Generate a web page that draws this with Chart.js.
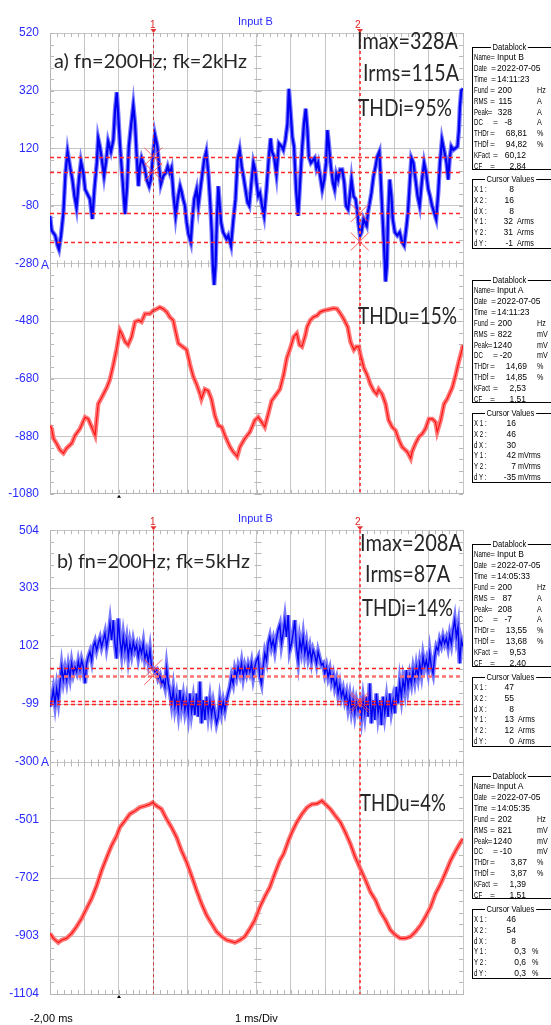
<!DOCTYPE html>
<html>
<head>
<meta charset="utf-8">
<script src="https://cdn.jsdelivr.net/npm/chart.js@4.4.0/dist/chart.umd.min.js"></script>
<style>
body{margin:0;background:#fff;width:551px;height:1025px;overflow:hidden;position:relative;font-family:"Liberation Sans",Arial,sans-serif}
canvas{position:absolute;left:0}
.note{position:absolute;color:#262626;font-family:Lato,"Open Sans",sans-serif;white-space:nowrap;transform-origin:0 50%}
.lbl{position:absolute;white-space:nowrap;font-size:11px;line-height:12px}
.blk{position:absolute;left:472px;width:110px;border:1px solid #000;box-sizing:border-box}
.blk span{position:absolute;font-size:8.5px;line-height:10px;white-space:nowrap;color:#000}
.blk .nar{font-size:9px;transform:scaleX(0.68);transform-origin:0 50%}
.blk .unit{font-size:9px;transform:scaleX(0.8);transform-origin:0 50%}
.blk .ttl{background:#fff;padding:0 2px;top:-6px;font-size:9.5px;transform:scaleX(0.8);transform-origin:0 50%}
</style>
</head>
<body>
<canvas id="chartA" width="551" height="512" style="top:0"></canvas>
<canvas id="chartB" width="551" height="513" style="top:512px"></canvas>
<script>
// time axis, ms
const xTicks = [-2,-1,0,1,2,3,4,5,6,7,8,9,10];
const yTicksA = [520,320,120,-80,-280,-480,-680,-880,-1080];
const yTicksB = [504,303,102,-99,-300,-501,-702,-903,-1104];

// a) current (Input B)
const tCurA = [-2.00,-1.95,-1.85,-1.78,-1.74,-1.68,-1.61,-1.55,-1.49,-1.42,-1.35,-1.29,-1.23,-1.16,-1.10,-1.03,-0.98,-0.91,-0.84,-0.77,
  -0.71,-0.64,-0.60,-0.55,-0.50,-0.43,-0.37,-0.31,-0.23,-0.16,-0.11,-0.06,-0.02,0.03,0.10,0.18,0.24,0.29,0.35,0.42,
  0.47,0.52,0.57,0.61,0.66,0.74,0.81,0.88,0.93,1.00,1.05,1.12,1.17,1.22,1.29,1.36,1.42,1.48,1.53,1.59,
  1.65,1.71,1.78,1.82,1.87,1.92,1.97,2.02,2.09,2.13,2.19,2.26,2.31,2.38,2.43,2.48,2.54,2.60,2.66,2.70,
  2.73,2.77,2.81,2.85,2.89,2.97,3.03,3.13,3.18,3.26,3.32,3.39,3.45,3.51,3.57,3.62,3.68,3.74,3.79,3.86,
  3.91,3.96,4.00,4.05,4.10,4.16,4.22,4.29,4.36,4.41,4.45,4.51,4.58,4.65,4.73,4.78,4.84,4.90,4.94,4.98,
  5.04,5.09,5.15,5.21,5.27,5.33,5.38,5.43,5.48,5.52,5.58,5.65,5.69,5.74,5.79,5.85,5.91,5.97,6.02,6.06,
  6.10,6.16,6.22,6.27,6.32,6.37,6.43,6.49,6.55,6.60,6.66,6.71,6.76,6.82,6.88,6.93,6.97,7.01,7.05,7.11,
  7.15,7.20,7.24,7.29,7.34,7.40,7.46,7.51,7.57,7.61,7.67,7.71,7.75,7.79,7.82,7.87,7.92,7.96,8.02,8.09,
  8.16,8.23,8.29,8.36,8.40,8.46,8.50,8.56,8.62,8.68,8.74,8.81,8.87,8.93,8.99,9.04,9.10,9.16,9.22,9.28,
  9.33,9.39,9.45,9.52,9.57,9.61,9.66,9.72,9.78,9.84,9.88,9.91,9.95,10.00];
const curA = [-115,-166,-183,-218,-231,-183,-103,34,108,57,11,-46,-86,11,74,34,-23,-40,-57,-126,
  -23,69,154,126,86,23,74,143,108,149,251,314,240,137,23,-109,-12,126,194,268,
  206,91,-12,57,86,57,11,-12,11,103,166,126,57,-6,23,34,57,34,51,-46,
  -115,-57,-12,-29,-57,-80,-137,-177,-206,-137,-57,-23,-80,-12,34,80,108,34,-80,-172,
  -286,-355,-286,-126,-12,-137,-172,-195,-183,-218,-137,-57,80,114,57,23,-23,-69,-80,11,
  69,46,0,-46,-35,-80,-115,-23,91,154,108,91,29,137,126,114,149,206,326,263,
  160,126,-23,-115,11,126,206,257,183,91,69,80,86,51,69,23,-23,11,69,183,
  137,57,0,-23,29,11,46,46,0,-80,-92,-46,11,-46,-57,-103,-149,-183,-172,-126,
  -137,-149,-103,-69,-35,23,57,91,108,11,-137,-229,-343,-286,-126,11,-46,-126,-172,-183,
  -172,-206,-218,-149,-103,11,86,69,11,-46,-80,11,69,34,-23,-46,-80,-103,-126,-35,
  69,149,114,69,11,80,126,114,120,126,183,263,320,326];

// a) voltage (Input A)
const tVolA = [-2.00,-1.95,-1.90,-1.81,-1.71,-1.61,-1.52,-1.37,-1.27,-1.13,-0.98,-0.89,-0.79,-0.69,-0.60,-0.50,-0.35,-0.26,-0.16,-0.06,
  0.03,0.08,0.18,0.27,0.37,0.47,0.57,0.66,0.76,0.90,1.00,1.10,1.19,1.29,1.39,1.48,1.58,1.63,1.73,1.85,
  1.97,2.07,2.16,2.26,2.36,2.40,2.50,2.60,2.69,2.79,2.89,2.99,3.08,3.23,3.32,3.44,3.52,3.66,3.81,3.95,
  4.05,4.15,4.24,4.34,4.44,4.58,4.68,4.79,4.88,4.98,5.08,5.17,5.25,5.32,5.42,5.47,5.56,5.66,5.76,5.85,
  5.95,6.10,6.24,6.34,6.44,6.53,6.65,6.73,6.83,6.90,6.97,7.02,7.12,7.21,7.31,7.41,7.49,7.55,7.65,7.75,
  7.84,7.94,8.04,8.14,8.23,8.38,8.48,8.52,8.62,8.72,8.82,8.91,9.01,9.11,9.20,9.25,9.35,9.45,9.54,9.69,
  9.79,9.88,9.98,10.00];
const volA = [-843,-854,-888,-905,-928,-939,-922,-905,-877,-854,-814,-820,-848,-877,-768,-746,-711,-683,-632,-575,
  -512,-523,-552,-563,-535,-483,-478,-483,-455,-455,-444,-438,-432,-438,-449,-466,-478,-506,-558,-569,
  -580,-632,-672,-700,-734,-751,-717,-723,-751,-808,-843,-848,-877,-917,-934,-951,-917,-888,-865,-825,
  -814,-831,-848,-803,-757,-734,-717,-666,-609,-575,-535,-523,-563,-569,-529,-501,-478,-466,-461,-449,
  -444,-440,-436,-438,-455,-472,-501,-552,-580,-569,-569,-597,-643,-666,-700,-723,-734,-717,-734,-768,
  -825,-848,-860,-894,-917,-934,-957,-934,-905,-882,-871,-854,-820,-820,-831,-865,-825,-768,-751,-711,
  -666,-620,-575,-563];

// b) current (Input B), one reading per sample, 249 samples over 12 ms
const curB = [-108,-85,-50,-97,-45,-85,-27,30,-16,19,-16,30,-4,42,7,30,13,48,19,53,30,-27,42,65,82,
  53,100,117,88,111,129,100,123,146,100,134,181,123,192,111,59,198,123,77,134,88,123,65,111,77,
  117,88,105,65,100,77,111,59,82,48,88,30,25,13,19,-10,1,-27,-16,-39,25,-27,-56,-97,-50,
  -108,-73,-120,-50,-108,-73,-120,-85,-131,-62,-125,-85,-137,-62,-143,-21,-166,-85,-154,-73,-131,-85,-137,-97,-131,
  -166,-143,-85,-125,-91,-120,-85,-62,-39,-4,-27,19,-4,30,7,42,-4,30,7,36,13,42,-4,30,53,
  65,-4,-27,30,77,53,111,134,100,123,88,129,157,175,111,146,192,134,210,88,111,146,192,100,53,
  123,88,134,77,111,65,94,53,88,71,42,82,59,36,42,7,30,-4,19,-21,1,-39,-16,-62,-33,
  -73,-50,-85,-62,-108,-73,-120,-85,-131,-91,-120,-97,-143,-85,-131,-73,-143,-27,-166,-85,-154,-62,-131,-85,-172,
  -73,-131,-85,-143,-62,-120,-85,-131,-39,-97,-27,-73,-16,-50,19,-39,1,-27,19,-16,30,-4,42,7,65,
  30,53,19,77,30,7,65,100,88,123,105,134,111,129,100,140,111,157,192,134,169,42,123,100];
const sampleMs = 12 / 248;
const tCurB = curB.map((_, i) => -2 + i * sampleMs);

// b) voltage (Input A)
const tVolB = [-2.00,-1.90,-1.76,-1.66,-1.52,-1.37,-1.23,-1.08,-0.94,-0.79,-0.64,-0.50,-0.35,-0.21,-0.06,0.03,0.18,0.32,0.47,0.61,
  0.76,0.90,0.98,1.10,1.24,1.39,1.53,1.68,1.82,1.97,2.11,2.26,2.40,2.55,2.69,2.84,2.99,3.13,3.28,3.37,
  3.52,3.66,3.81,3.95,4.10,4.24,4.39,4.53,4.68,4.79,4.93,5.03,5.17,5.32,5.47,5.61,5.76,5.90,6.00,6.15,
  6.29,6.44,6.58,6.73,6.87,7.02,7.17,7.31,7.46,7.60,7.75,7.89,8.04,8.18,8.33,8.48,8.62,8.77,8.91,9.06,
  9.20,9.35,9.50,9.64,9.79,9.93,10.00];
const volB = [-894,-911,-926,-917,-911,-894,-871,-842,-808,-773,-727,-676,-630,-589,-555,-526,-503,-480,-469,-457,
  -452,-446,-440,-452,-463,-498,-526,-561,-607,-647,-693,-745,-790,-831,-859,-888,-905,-917,-922,-926,
  -917,-905,-877,-848,-802,-767,-733,-687,-641,-618,-572,-543,-509,-480,-457,-446,-444,-434,-446,-463,
  -486,-509,-543,-584,-630,-670,-710,-750,-779,-819,-848,-882,-900,-911,-911,-905,-888,-865,-836,-802,
  -756,-722,-681,-641,-607,-578,-566];

// cursors
const cursorTimes = [1, 7];
const levelsA = [91, 38, -105, -204];
const levelsB = [25, -1, -88, -97];

function pts(xs, ys) { return xs.map((t, i) => ({x: t, y: ys[i]})); }
function trace(xs, ys, color, width) {
  return {data: pts(xs, ys), borderColor: color, borderWidth: width, pointRadius: 0, tension: 0, fill: false};
}

const scopeDeco = {
  id: 'scopeDeco',
  beforeDatasetsDraw(chart, args, o) {
    const {ctx, chartArea: a, scales: {x, y}} = chart;
    ctx.save();
    ctx.strokeStyle = '#b8b8b8';
    ctx.lineWidth = 1;
    ctx.beginPath();
    const yt = o.yTicks, ystep = (yt[0] - yt[1]) / 5;
    const cx = Math.round(x.getPixelForValue(4)) + 0.5;
    const cy = Math.round(y.getPixelForValue(yt[4])) + 0.5;
    for (let k = 0; k <= 40; k++) {
      const py = Math.round(y.getPixelForValue(yt[8] + k * ystep)) + 0.5;
      ctx.moveTo(a.left, py); ctx.lineTo(a.left + 4, py);
      ctx.moveTo(a.right - 4, py); ctx.lineTo(a.right, py);
      ctx.moveTo(cx - 3, py); ctx.lineTo(cx + 4, py);
    }
    for (let k = 0; k <= 60; k++) {
      const px = Math.round(x.getPixelForValue(-2 + k * 0.2)) + 0.5;
      ctx.moveTo(px, a.top); ctx.lineTo(px, a.top + 4);
      ctx.moveTo(px, a.bottom - 4); ctx.lineTo(px, a.bottom);
      ctx.moveTo(px, cy - 3); ctx.lineTo(px, cy + 4);
    }
    ctx.stroke();
    // trigger marker
    const tx = Math.round(x.getPixelForValue(0));
    ctx.fillStyle = '#000';
    ctx.beginPath();
    ctx.moveTo(tx - 2, a.bottom + 4); ctx.lineTo(tx + 2, a.bottom + 4); ctx.lineTo(tx, a.bottom + 1);
    ctx.fill();
    ctx.restore();
  },
  afterDatasetsDraw(chart, args, o) {
    const {ctx, chartArea: a, scales: {x, y}} = chart;
    ctx.save();
    // horizontal cursor levels
    o.levels.forEach((v, i) => {
      const py = Math.round(y.getPixelForValue(v)) + 0.5;
      ctx.strokeStyle = o.levelColors[i];
      ctx.lineWidth = o.levelWidths[i];
      ctx.setLineDash([4, 3]);
      ctx.beginPath(); ctx.moveTo(a.left, py); ctx.lineTo(a.right, py); ctx.stroke();
    });
    // vertical cursors
    cursorTimes.forEach((t, i) => {
      const px = Math.round(x.getPixelForValue(t)) + (i ? 0 : 0.5);
      ctx.strokeStyle = i ? '#ff4a4a' : '#c43a3a';
      ctx.lineWidth = i ? 2 : 1;
      ctx.setLineDash([3, 3]);
      ctx.beginPath(); ctx.moveTo(px, a.top); ctx.lineTo(px, a.bottom); ctx.stroke();
      ctx.setLineDash([]);
      ctx.fillStyle = '#e83030';
      ctx.beginPath();
      ctx.moveTo(px - 3, a.top - 4); ctx.lineTo(px + 3, a.top - 4); ctx.lineTo(px, a.top);
      ctx.fill();
    });
    // cross marks where cursors meet their levels
    ctx.setLineDash([]);
    ctx.strokeStyle = 'rgba(255,70,70,0.85)';
    ctx.lineWidth = 1;
    o.levels.forEach((v, i) => {
      const px = x.getPixelForValue(cursorTimes[i < 2 ? 0 : 1]);
      const py = y.getPixelForValue(v);
      const s = 9;
      ctx.beginPath();
      ctx.moveTo(px - s, py - s); ctx.lineTo(px + s, py + s);
      ctx.moveTo(px + s, py - s); ctx.lineTo(px - s, py + s);
      ctx.stroke();
    });
    ctx.restore();
  }
};

function makeChart(id, cur, tCur, vol, tVol, yTicks, levels, levelColors, levelWidths, padTop, xH, curW) {
  return new Chart(id, {
    type: 'line',
    data: {
      datasets: [
        trace(tCur, cur, '#0000f0', curW),
        trace(tVol, vol, '#ff1010', 1.1),
        trace(tCur, cur, '#7878ff', 4.5),
        trace(tVol, vol, '#ff7878', 4.5)
      ]
    },
    options: {
      responsive: false,
      animation: false,
      devicePixelRatio: 1,
      layout: {padding: {top: padTop, right: 88, left: 0, bottom: 0}},
      plugins: {
        legend: {display: false},
        tooltip: {enabled: false},
        scopeDeco: {yTicks: yTicks, levels: levels, levelColors: levelColors, levelWidths: levelWidths}
      },
      scales: {
        x: {
          type: 'linear', min: -2, max: 10,
          afterBuildTicks(s) { s.ticks = xTicks.map(v => ({value: v})); },
          afterFit(s) { s.height = xH; },
          ticks: {display: false},
          grid: {color: '#c6c6c6', drawTicks: false},
          border: {color: '#b4b4b4'}
        },
        y: {
          type: 'linear', min: yTicks[8], max: yTicks[0],
          afterBuildTicks(s) { s.ticks = yTicks.map(v => ({value: v})); },
          afterFit(s) { s.width = 50; },
          ticks: {color: '#2a2aff', font: {family: 'Liberation Sans', size: 12}, padding: 11, autoSkip: false,
                  callback: v => String(v)},
          grid: {color: '#c6c6c6', drawTicks: false},
          border: {color: '#b4b4b4'}
        }
      }
    },
    plugins: [scopeDeco]
  });
}

makeChart('chartA', curA, tCurA, volA, tVolA, yTicksA, levelsA,
  ['#ff2a2a', '#ff2a2a', '#ff2a2a', '#ff2a2a'], [1.5, 1.5, 1.5, 1.5], 33, 15, 2.2);
makeChart('chartB', curB, tCurB, volB, tVolB, yTicksB, levelsB,
  ['#ff2020', '#ff7070', '#ff2020', '#ff2020'], [1.5, 2.5, 1.5, 1.5], 18, 31, 1.4);

// ---- text overlays ----
function addEl(cls, text, css) {
  const d = document.createElement('div');
  d.className = cls;
  d.textContent = text;
  Object.assign(d.style, css);
  document.body.appendChild(d);
  return d;
}

const notes = [
  ['a) fn=200Hz; fk=2kHz', 54, 60, 19, 193],
  ['Imax=328A', 357, 40, 23, 101],
  ['Irms=115A', 363, 72, 23, 96],
  ['THDi=95%', 358, 107, 23, 94],
  ['THDu=15%', 358, 315, 23, 99],
  ['b) fn=200Hz; fk=5kHz', 57, 560, 19, 193],
  ['Imax=208A', 360, 542, 23, 102],
  ['Irms=87A', 365, 573, 23, 85],
  ['THDi=14%', 362, 607, 23, 91],
  ['THDu=4%', 360, 802, 23, 86]
];
const noteEls = notes.map(n => addEl('note', n[0], {left: n[1] + 'px', top: (n[2] - n[3] / 2) + 'px',
  fontSize: n[3] + 'px', lineHeight: n[3] + 'px'}));

const blue = '#2a2aff';
[['Input B', 238, 15], ['Input B', 238, 512]].forEach(l => addEl('lbl', l[0], {left: l[1] + 'px', top: l[2] + 'px', color: blue}));
[['A', 41, 259], ['A', 41, 756]].forEach(l => addEl('lbl', l[0], {left: l[1] + 'px', top: l[2] + 'px', color: blue, fontSize: '12px'}));
[['1', 150, 19], ['2', 355, 19], ['1', 150, 516], ['2', 355, 516]].forEach(l =>
  addEl('lbl', l[0], {left: l[1] + 'px', top: l[2] + 'px', color: '#e02020', fontSize: '10px'}));
addEl('lbl', '-2,00 ms', {left: '30px', top: '1012px', color: '#000'});
addEl('lbl', '1 ms/Div', {left: '235px', top: '1012px', color: '#000'});

// ---- data blocks ----
const dbLabels = ['Name', 'Date', 'Time', 'Fund', 'RMS', 'Peak', 'DC', 'THDr', 'THDf', 'KFact', 'CF'];
const dbEqAt = [17, 18, 18, 17, 17, 14.5, 20, 17, 17, 20, 17];
const dbA1 = ['Input B', '2022-07-05', '14:11:23', '200', '115', '328', '-8', '68,81', '94,82', '60,12', '2,84'];
const dbUnitsA1 = ['', '', '', 'Hz', 'A', 'A', 'A', '%', '%', '', ''];
const dbA2 = ['Input A', '2022-07-05', '14:11:23', '200', '822', '1240', '-20', '14,69', '14,85', '2,53', '1,51'];
const dbUnitsA2 = ['', '', '', 'Hz', 'mV', 'mV', 'mV', '%', '%', '', ''];
const dbB1 = ['Input B', '2022-07-05', '14:05:33', '200', '87', '208', '-7', '13,55', '13,68', '9,53', '2,40'];
const dbUnitsB1 = dbUnitsA1;
const dbB2 = ['Input A', '2022-07-05', '14:05:35', '202', '821', '1240', '-10', '3,87', '3,87', '1,39', '1,51'];
const dbUnitsB2 = dbUnitsA2;

const cvLabels = ['X 1 :', 'X 2 :', 'd X :', 'Y 1 :', 'Y 2 :', 'd Y :'];
const cvA1 = ['8', '16', '8', '32', '31', '-1'];
const cvUnitsA1 = ['', '', '', 'Arms', 'Arms', 'Arms'];
const cvA2 = ['16', '46', '30', '42', '7', '-35'];
const cvUnitsA2 = ['', '', '', 'mVrms', 'mVrms', 'mVrms'];
const cvB1 = ['47', '55', '8', '13', '12', '0'];
const cvUnitsB1 = cvUnitsA1;
const cvB2 = ['46', '54', '8', '0,3', '0,6', '0,3'];
const cvUnitsB2 = ['', '', '', '%', '%', '%'];

function span(box, text, css, cls) {
  const s = document.createElement('span');
  s.textContent = text;
  Object.assign(s.style, css);
  if (cls) s.className = cls;
  box.appendChild(s);
  return s;
}

function dataBlock(top, vals, units) {
  const box = document.createElement('div');
  box.className = 'blk';
  box.style.top = top + 'px';
  box.style.height = '123px';
  document.body.appendChild(box);
  span(box, 'Datablock', {left: '18px'}, 'ttl');
  dbLabels.forEach((lab, i) => {
    const y = 4 + i * 10.9;
    span(box, lab, {left: '1px', top: y + 'px'}, 'nar');
    span(box, '=', {left: dbEqAt[i] + 'px', top: y + 'px'});
    if (i < 3) span(box, vals[i], {left: '24px', top: y + 'px'});
    else {
      const right = i < 7 ? 39 : (i < 9 ? 54 : 53);
      span(box, vals[i], {right: (108 - right) + 'px', top: y + 'px'});
    }
    if (units[i]) span(box, units[i], {left: '64px', top: y + 'px'}, 'unit');
  });
}

function cursorBlock(top, vals, units, rightX, rightY, unitLeft) {
  const box = document.createElement('div');
  box.className = 'blk';
  box.style.top = top + 'px';
  box.style.height = '70px';
  document.body.appendChild(box);
  span(box, 'Cursor Values', {left: '12px'}, 'ttl');
  cvLabels.forEach((lab, i) => {
    const y = 4 + i * 10.8;
    span(box, lab, {left: '1px', top: y + 'px'}, 'nar');
    const right = i < 3 ? rightX : rightY;
    span(box, vals[i], {right: (108 - right) + 'px', top: y + 'px'});
    if (units[i]) span(box, units[i], {left: unitLeft + 'px', top: y + 'px'}, 'unit');
  });
}

dataBlock(47, dbA1, dbUnitsA1);
cursorBlock(179, cvA1, cvUnitsA1, 41, 40, 44);
dataBlock(280, dbA2, dbUnitsA2);
cursorBlock(413, cvA2, cvUnitsA2, 43, 43, 45);
dataBlock(544, dbB1, dbUnitsB1);
cursorBlock(677, cvB1, cvUnitsB1, 41, 41, 45);
dataBlock(776, dbB2, dbUnitsB2);
cursorBlock(909, cvB2, cvUnitsB2, 43, 53, 59);

// fit annotation widths to the reference
noteEls.forEach((el, i) => {
  const w = el.getBoundingClientRect().width;
  if (w > 0) el.style.transform = 'scaleX(' + (notes[i][4] / w).toFixed(3) + ')';
});
</script>
</body>
</html>
